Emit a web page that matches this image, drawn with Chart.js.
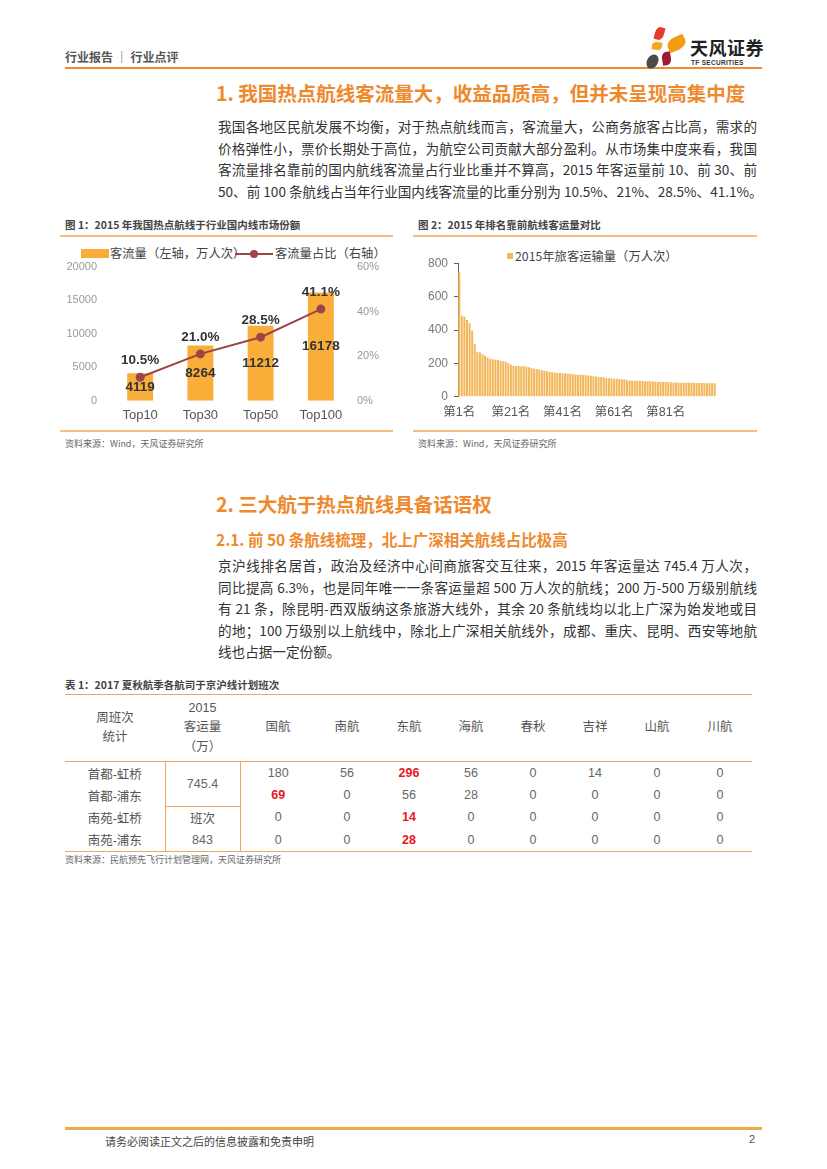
<!DOCTYPE html>
<html lang="zh-CN">
<head>
<meta charset="utf-8">
<title>行业点评</title>
<script src="https://cdn.jsdelivr.net/npm/chart.js@4.4.1/dist/chart.umd.min.js"></script>
<style>
  html,body{margin:0;padding:0;background:#fff;}
  body{width:827px;height:1169px;position:relative;overflow:hidden;font-family:"Liberation Sans","Noto Sans CJK SC",sans-serif;color:#333;}
  .abs{position:absolute;}
  .hdr{left:65px;top:48px;font-size:12px;color:#555;font-weight:bold;font-family:"Noto Sans CJK SC";}
  .line{position:absolute;background:#F0A04A;}
  .h1{left:216px;font-size:19.5px;color:#EE8A2E;font-weight:600;white-space:nowrap;font-family:"Noto Sans CJK SC";}
  .h2{left:216px;font-size:15.5px;color:#EE8A2E;font-weight:600;white-space:nowrap;font-family:"Noto Sans CJK SC";}
  .para{left:218px;width:539px;font-size:13.6px;color:#333;font-family:"Noto Sans CJK SC";}
  .para div{height:21.5px;line-height:21.5px;text-align:justify;text-align-last:justify;white-space:nowrap;}
  .para div.last{text-align-last:left;}
  .ctitle{font-size:10.5px;font-weight:bold;color:#444;white-space:nowrap;font-family:"Noto Sans CJK SC";}
  .src{font-size:9px;color:#666;white-space:nowrap;font-family:"Noto Sans CJK SC";}
  .leg{font-size:12.3px;line-height:14px;color:#444;white-space:nowrap;font-family:"Noto Sans CJK SC";}
  table{border-collapse:collapse;position:absolute;left:65px;top:694px;table-layout:fixed;font-family:"Liberation Sans","Noto Sans CJK SC";}
  td{padding:0;text-align:center;vertical-align:middle;font-size:12.5px;color:#555;}
  td.n{color:#666;font-weight:300;}
  td.r{color:#E8161E;font-weight:bold;}
  tr.head td{height:66px;border-top:1.5px solid #F0A860;border-bottom:1.5px solid #F0A860;line-height:19.5px;color:#555;}
  tr.b td{height:22px;}
  tr.last td{border-bottom:1.5px solid #F0A860;}
  .vl{border-left:1.5px solid #F0A860;border-right:1.5px solid #F0A860;}
  .petal{position:absolute;border-radius:50% 0 50% 0;}
</style>
</head>
<body>
<script>
// ---- Figure 1 data ----
const fig1Categories = ['Top10', 'Top30', 'Top50', 'Top100'];
const fig1Volume = [4119, 8264, 11212, 16178];      // 客流量（万人次）
const fig1Share = [10.5, 21.0, 28.5, 41.1];         // 客流量占比（%）
const fig1LeftTicks = [0, 5000, 10000, 15000, 20000];
const fig1RightTicks = [0, 20, 40, 60];

// ---- Figure 2 data ----
const fig2RankCount = 100;
const fig2Volume = [
  745, 485, 480, 460, 440, 395, 315, 268, 265, 255,
  245, 235, 228, 225, 222, 220, 215, 212, 210, 200,
  192, 186, 184, 184, 183, 182, 180, 176, 172, 168,
  166, 162, 158, 155, 152, 150, 146, 143, 142, 142,
  141, 140, 138, 136, 134, 133, 132, 131, 130, 129,
  127, 125, 123, 121, 120, 118, 116, 112, 110, 109,
  108, 107, 106, 105, 104, 98, 97, 96, 96, 95,
  95, 94, 93, 92, 92, 91, 90, 89, 89, 88,
  88, 87, 86, 85, 85, 84, 84, 84, 83, 83,
  83, 83, 82, 82, 82, 82, 81, 81, 81, 81
];
const fig2Ticks = [0, 200, 400, 600, 800];
</script>

<!-- header -->
<div class="abs hdr">行业报告 ｜ 行业点评</div>
<div class="line" style="left:65px;top:67px;width:697px;height:2px;background:#F08C30;"></div>
<!-- logo -->
<div class="petal" style="left:655px;top:27px;width:9px;height:13px;background:#E53A2E;transform:rotate(15deg);"></div>
<div class="petal" style="left:667px;top:37px;width:19px;height:13px;background:#F39C12;transform:rotate(-25deg);border-radius:50% 10% 50% 10%;"></div>
<div class="petal" style="left:652px;top:42px;width:10px;height:8px;background:#F5A623;transform:rotate(10deg);"></div>
<div class="petal" style="left:647px;top:54px;width:11px;height:15px;background:#4a4a4a;transform:rotate(30deg);border-radius:50%;"></div>
<div class="petal" style="left:662px;top:52px;width:9px;height:13px;background:#9E1B32;transform:rotate(-10deg);"></div>
<div class="abs" style="left:690px;top:38px;font-size:18px;line-height:19px;font-weight:bold;color:#222;font-family:'Noto Sans CJK SC';white-space:nowrap;letter-spacing:0.5px;">天风证券</div>
<div class="abs" style="left:691px;top:59px;font-size:6.5px;line-height:7px;font-weight:bold;color:#333;white-space:nowrap;letter-spacing:0.3px;">TF SECURITIES</div>

<!-- section 1 -->
<div class="abs h1" style="top:78px;">1. 我国热点航线客流量大，收益品质高，但并未呈现高集中度</div>
<div class="abs para" style="top:116px;">
  <div>我国各地区民航发展不均衡，对于热点航线而言，客流量大，公商务旅客占比高，需求的</div>
  <div>价格弹性小，票价长期处于高位，为航空公司贡献大部分盈利。从市场集中度来看，我国</div>
  <div>客流量排名靠前的国内航线客流量占行业比重并不算高，2015 年客运量前 10、前 30、前</div>
  <div>50、前 100 条航线占当年行业国内线客流量的比重分别为 10.5%、21%、28.5%、41.1%。</div>
</div>

<!-- figure 1 -->
<div class="abs ctitle" style="left:65px;top:217px;">图 1：2015 年我国热点航线于行业国内线市场份额</div>
<div class="line" style="left:60px;top:235px;width:333px;height:1.5px;background:#F5BE85;"></div>
<div class="abs" style="left:81px;top:249px;width:28px;height:9px;background:#F9AE3A;"></div>
<div class="abs leg" style="left:110px;top:246px;">客流量（左轴，万人次）</div>
<div class="abs" style="left:235px;top:253px;width:38px;height:2px;background:#9C4548;"></div>
<div class="abs" style="left:250px;top:250px;width:8px;height:8px;border-radius:50%;background:#9C4548;"></div>
<div class="abs leg" style="left:275px;top:246px;">客流量占比（右轴）</div>
<div class="abs" style="left:60px;top:245px;width:340px;height:185px;"><canvas id="c1"></canvas></div>
<div class="line" style="left:60px;top:430px;width:333px;height:1.5px;background:#F5BE85;"></div>
<div class="abs src" style="left:65px;top:437px;">资料来源：Wind，天风证券研究所</div>

<!-- figure 2 -->
<div class="abs ctitle" style="left:418px;top:217px;">图 2：2015 年排名靠前航线客运量对比</div>
<div class="line" style="left:413px;top:235px;width:344px;height:1.5px;background:#F5BE85;"></div>
<div class="abs" style="left:507px;top:253px;width:6px;height:6px;background:#F3B85C;"></div>
<div class="abs leg" style="left:515px;top:249px;">2015年旅客运输量（万人次）</div>
<div class="abs" style="left:413px;top:245px;width:345px;height:185px;"><canvas id="c2"></canvas></div>
<div class="line" style="left:413px;top:430px;width:344px;height:1.5px;background:#F5BE85;"></div>
<div class="abs src" style="left:418px;top:437px;">资料来源：Wind，天风证券研究所</div>

<!-- section 2 -->
<div class="abs h1" style="top:489px;">2. 三大航于热点航线具备话语权</div>
<div class="abs h2" style="top:528px;">2.1. 前 50 条航线梳理，北上广深相关航线占比极高</div>
<div class="abs para" style="top:555px;">
  <div>京沪线排名居首，政治及经济中心间商旅客交互往来，2015 年客运量达 745.4 万人次，</div>
  <div>同比提高 6.3%，也是同年唯一一条客运量超 500 万人次的航线；200 万-500 万级别航线</div>
  <div>有 21 条，除昆明-西双版纳这条旅游大线外，其余 20 条航线均以北上广深为始发地或目</div>
  <div>的地；100 万级别以上航线中，除北上广深相关航线外，成都、重庆、昆明、西安等地航</div>
  <div class="last">线也占据一定份额。</div>
</div>

<!-- table -->
<div class="abs ctitle" style="left:65px;top:677px;">表 1：2017 夏秋航季各航司于京沪线计划班次</div>
<table>
  <colgroup>
    <col style="width:100px"><col style="width:75px"><col style="width:76px">
    <col style="width:62px"><col style="width:62px"><col style="width:62px"><col style="width:62px">
    <col style="width:62px"><col style="width:62px"><col style="width:64px">
  </colgroup>
  <tr class="head">
    <td>周班次<br>统计</td><td>2015<br>客运量<br>（万）</td>
    <td>国航</td><td>南航</td><td>东航</td><td>海航</td><td>春秋</td><td>吉祥</td><td>山航</td><td>川航</td>
  </tr>
  <tr class="b">
    <td>首都-虹桥</td><td rowspan="2" class="vl n" style="border-bottom:1.5px solid #F0A860;">745.4</td>
    <td class="n">180</td><td class="n">56</td><td class="r">296</td><td class="n">56</td><td class="n">0</td><td class="n">14</td><td class="n">0</td><td class="n">0</td>
  </tr>
  <tr class="b">
    <td>首都-浦东</td>
    <td class="r">69</td><td class="n">0</td><td class="n">56</td><td class="n">28</td><td class="n">0</td><td class="n">0</td><td class="n">0</td><td class="n">0</td>
  </tr>
  <tr class="b">
    <td>南苑-虹桥</td><td class="vl">班次</td>
    <td class="n">0</td><td class="n">0</td><td class="r">14</td><td class="n">0</td><td class="n">0</td><td class="n">0</td><td class="n">0</td><td class="n">0</td>
  </tr>
  <tr class="b last">
    <td>南苑-浦东</td><td class="vl n">843</td>
    <td class="n">0</td><td class="n">0</td><td class="r">28</td><td class="n">0</td><td class="n">0</td><td class="n">0</td><td class="n">0</td><td class="n">0</td>
  </tr>
</table>
<div class="abs src" style="left:65px;top:853px;">资料来源：民航预先飞行计划管理网，天风证券研究所</div>

<!-- footer -->
<div class="line" style="left:65px;top:1127px;width:697px;height:3px;background:#F0A848;"></div>
<div class="abs" style="left:105px;top:1133px;font-size:11px;color:#444;font-family:'Noto Sans CJK SC';white-space:nowrap;">请务必阅读正文之后的信息披露和免责申明</div>
<div class="abs" style="left:749px;top:1133px;font-size:11px;color:#555;">2</div>

<script>
Chart.defaults.font.family = '"Liberation Sans","Noto Sans CJK SC",sans-serif';

const fig1Labels = {
  id: 'fig1Labels',
  afterDatasetsDraw(chart) {
    const ctx = chart.ctx;
    const lineMeta = chart.getDatasetMeta(0);
    const barMeta = chart.getDatasetMeta(1);
    ctx.save();
    ctx.fillStyle = '#333';
    ctx.font = 'bold 13.5px "Liberation Sans", sans-serif';
    ctx.textAlign = 'center';
    ctx.textBaseline = 'middle';
    barMeta.data.forEach((bar, i) => {
      ctx.fillText(String(fig1Volume[i]), bar.x, (bar.y + bar.base) / 2);
    });
    lineMeta.data.forEach((pt, i) => {
      ctx.fillText(fig1Share[i].toFixed(1) + '%', pt.x, pt.y - 17);
    });
    ctx.restore();
  }
};

new Chart(document.getElementById('c1'), {
  data: {
    labels: fig1Categories,
    datasets: [
      {
        type: 'line', label: '客流量占比（右轴）', data: fig1Share, yAxisID: 'y1',
        borderColor: '#9C4548', backgroundColor: '#9C4548', borderWidth: 2,
        pointRadius: 3.5, pointHoverRadius: 3.5, tension: 0, order: 0
      },
      {
        type: 'bar', label: '客流量（左轴，万人次）', data: fig1Volume, yAxisID: 'y',
        backgroundColor: '#F9AE3A', barPercentage: 0.43, categoryPercentage: 1, order: 1
      }
    ]
  },
  options: {
    responsive: true, maintainAspectRatio: false, animation: false,
    layout: { padding: { top: 22, left: 0, right: 0, bottom: 0 } },
    plugins: { legend: { display: false }, tooltip: { enabled: false } },
    scales: {
      x: {
        grid: { display: false, drawTicks: false }, border: { display: false },
        ticks: { color: '#555', font: { size: 13 }, padding: 7 },
        afterFit(s) { s.height = 29.3; }
      },
      y: {
        position: 'left', min: 0, max: 20000,
        afterBuildTicks(s) { s.ticks = fig1LeftTicks.map(v => ({ value: v })); },
        grid: { display: false, drawTicks: false }, border: { display: false },
        ticks: { color: '#999', font: { size: 11 }, padding: 13, callback: v => String(v) },
        afterFit(s) { s.width = 50; }
      },
      y1: {
        position: 'right', min: 0, max: 60,
        afterBuildTicks(s) { s.ticks = fig1RightTicks.map(v => ({ value: v })); },
        grid: { display: false, drawTicks: false }, border: { display: false },
        ticks: { color: '#999', font: { size: 11 }, padding: 6, callback: v => v + '%' },
        afterFit(s) { s.width = 49; }
      }
    }
  },
  plugins: [fig1Labels]
});

const fig2Labels = [];
for (let i = 1; i <= fig2RankCount; i++) fig2Labels.push('第' + i + '名');

new Chart(document.getElementById('c2'), {
  type: 'bar',
  data: {
    labels: fig2Labels,
    datasets: [{
      label: '2015年旅客运输量（万人次）', data: fig2Volume,
      backgroundColor: '#F3B85C', barPercentage: 0.78, categoryPercentage: 1
    }]
  },
  options: {
    responsive: true, maintainAspectRatio: false, animation: false,
    layout: { padding: { top: 18.3, left: 0, right: 42, bottom: 0 } },
    plugins: { legend: { display: false }, tooltip: { enabled: false } },
    scales: {
      x: {
        grid: { display: false, drawTicks: false }, border: { display: false },
        ticks: {
          autoSkip: false, maxRotation: 0, color: '#555', font: { size: 12.5 }, padding: 8,
          callback(v, i) { return i % 20 === 0 ? fig2Labels[i] : ''; }
        },
        afterFit(s) { s.height = 33.3; }
      },
      y: {
        min: 0, max: 800,
        afterBuildTicks(s) { s.ticks = fig2Ticks.map(v => ({ value: v })); },
        grid: { display: true, drawOnChartArea: false, drawTicks: true, tickLength: 4, color: '#6b5b45' },
        border: { display: true, color: '#6b5b45', width: 1 },
        ticks: { color: '#777', font: { size: 12 }, padding: 6, callback: v => String(v) },
        afterFit(s) { s.width = 45; }
      }
    }
  }
});
</script>
</body>
</html>
